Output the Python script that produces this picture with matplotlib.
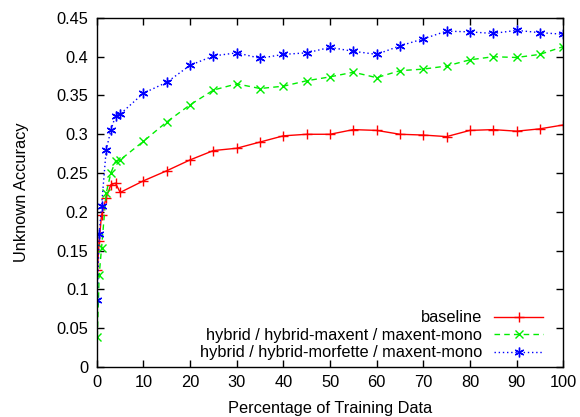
import matplotlib
matplotlib.use("Agg")
import matplotlib.pyplot as plt

# ---------------------------------------------------------------------------
# Data
# ---------------------------------------------------------------------------
pct = [0.1, 0.5, 1, 2, 3, 4, 5, 10, 15, 20, 25, 30, 35, 40, 45, 50,
       55, 60, 65, 70, 75, 80, 85, 90, 95, 100]

baseline = [0.125, 0.162, 0.196, 0.218, 0.235, 0.237, 0.225, 0.240, 0.253,
            0.267, 0.279, 0.282, 0.290, 0.298, 0.300, 0.300, 0.306, 0.305,
            0.300, 0.299, 0.297, 0.305, 0.306, 0.304, 0.307, 0.312]

maxent = [0.039, 0.119, 0.153, 0.224, 0.250, 0.265, 0.267, 0.291, 0.316,
          0.338, 0.357, 0.365, 0.359, 0.362, 0.369, 0.374, 0.380, 0.373,
          0.382, 0.384, 0.388, 0.396, 0.400, 0.399, 0.403, 0.413]

morfette = [0.086, 0.172, 0.207, 0.280, 0.305, 0.324, 0.326, 0.353, 0.367,
            0.389, 0.401, 0.405, 0.398, 0.403, 0.405, 0.412, 0.407, 0.403,
            0.414, 0.423, 0.433, 0.432, 0.430, 0.434, 0.431, 0.429]

labels = ['baseline',
          'hybrid / hybrid-maxent / maxent-mono',
          'hybrid / hybrid-morfette / maxent-mono']

xticks = list(range(0, 101, 10))
yticks = [i * 0.05 for i in range(10)]
ytick_labels = ['0', '0.05', '0.1', '0.15', '0.2', '0.25', '0.3', '0.35',
                '0.4', '0.45']

# ---------------------------------------------------------------------------
# Style
# ---------------------------------------------------------------------------
plt.rcParams['font.family'] = ['Liberation Sans', 'DejaVu Sans']
plt.rcParams['font.size'] = 11.8

fig = plt.figure(figsize=(5.8, 4.17), dpi=100)
ax = fig.add_axes([0.167, 0.12, 0.804, 0.837])

asterisk = (6, 2, 0)
ax.plot(pct, baseline, color='#ff0000', lw=1.0, ls='-', marker='+',
        markersize=7, markeredgewidth=1.0, label=labels[0])
ax.plot(pct, maxent, color='#00ee00', lw=1.0, ls=(0, (4, 3)), marker='x',
        markersize=6, markeredgewidth=1.0, label=labels[1])
ax.plot(pct, morfette, color='#0000ff', lw=1.0, ls=(0, (1, 2)),
        marker=asterisk, markersize=7, markeredgewidth=1.0, label=labels[2])

ax.set_xlim(0, 100)
ax.set_ylim(0, 0.45)
ax.set_xticks(xticks)
ax.set_yticks(yticks)
ax.set_yticklabels(ytick_labels)
ax.tick_params(direction='in', top=True, right=True, length=5, width=1,
               pad=6)
for s in ax.spines.values():
    s.set_linewidth(1.0)

ax.set_xlabel('Percentage of Training Data', labelpad=8)
ax.set_ylabel('Unknown Accuracy', labelpad=20)

ax.legend(loc='lower right', bbox_to_anchor=(0.971, 0.0), frameon=False,
          markerfirst=False, handlelength=3.0, handletextpad=0.7,
          labelspacing=0.15, borderaxespad=0.0, fontsize=11.8)

fig.savefig('out.png', dpi=100)
